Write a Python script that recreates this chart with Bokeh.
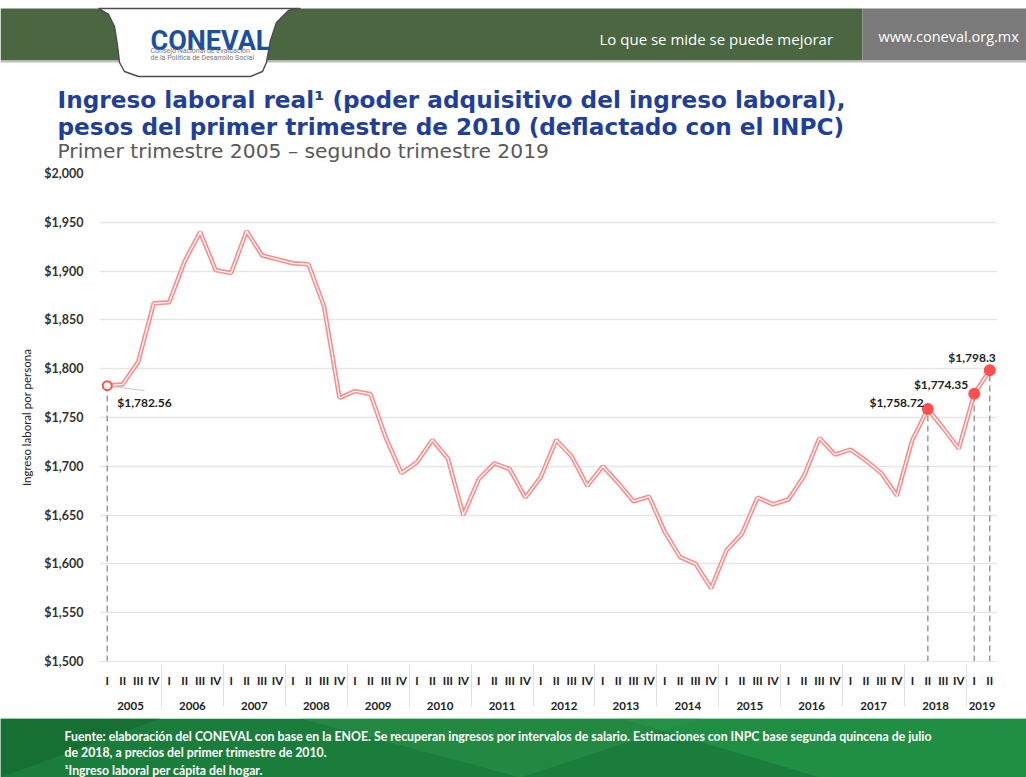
from bokeh.plotting import figure
from bokeh.models import FactorRange, Range1d, ColumnDataSource, Label, FixedTicker, NumeralTickFormatter
from bokeh.layouts import column
from bokeh.embed import file_html
from bokeh.resources import INLINE
from bokeh.core.properties import value

# ---------------- data ----------------
years = [str(y) for y in range(2005, 2020)]
quarters = ["I", "II", "III", "IV"]
income = [1782.56, 1784, 1807, 1867,
          1868, 1910, 1940, 1901,
          1898, 1941, 1916, 1912,
          1908, 1907, 1864, 1770,
          1777, 1774, 1729, 1693,
          1704, 1727, 1708, 1650,
          1687, 1703, 1697, 1668,
          1689, 1727, 1710, 1680,
          1700, 1683, 1664, 1669,
          1633, 1607, 1600, 1575,
          1614, 1631, 1668, 1661,
          1666, 1690, 1729, 1712,
          1717, 1706, 1693, 1670,
          1727, 1758.72, 1739, 1718,
          1774.35, 1798.3]
highlight_idx = [0, 53, 56, 57]
y_ticks = [1500, 1550, 1600, 1650, 1700, 1750, 1800, 1850, 1900, 1950, 2000]
y_min, y_max = 1500, 2000

title1 = "Ingreso laboral real¹ (poder adquisitivo del ingreso laboral),"
title2 = "pesos del primer trimestre de 2010 (deflactado con el INPC)"
subtitle = "Primer trimestre 2005 – segundo trimestre 2019"
y_label = "Ingreso laboral por persona"
foot1 = ("Fuente: elaboración del CONEVAL con base en la ENOE. Se recuperan ingresos por intervalos de salario. "
         "Estimaciones con INPC base segunda quincena de julio")
foot2 = "de 2018, a precios del primer trimestre de 2010."
foot3 = "¹Ingreso laboral per cápita del hogar."

periods = [(y, q) for y in years for q in quarters][:len(income)]

W = 1026
CHART_FONT = "Lato"

# ---------------- header ----------------
HH = 165
ph = figure(width=W, height=HH, x_range=Range1d(0, W), y_range=Range1d(HH, 0),
            toolbar_location=None, output_backend="svg", min_border=0,
            x_axis_location=None, y_axis_location=None)
ph.frame_align = False
ph.grid.visible = False
ph.outline_line_color = None
ph.quad(left=0, right=862, top=8, bottom=60, fill_color="#4a6741", line_color=None)
ph.quad(left=862, right=W, top=8, bottom=60, fill_color="#7a7a7a", line_color=None)
ph.quad(left=0, right=W, top=60, bottom=62, fill_color="#b9c2b6", line_color=None)
logo_x = [98, 108, 114, 117, 119, 124, 138, 250, 262, 266, 270, 276, 288, 300]
logo_y = [8, 14, 26, 45, 62, 71, 76, 76, 71, 62, 40, 22, 10, 8]
ph.patch(logo_x, logo_y, fill_color="white", line_color="#4d4d4d", line_width=1.5)
ph.text(x=[150], y=[40], text=["CONEVAL"], text_font=value("Roboto"), text_font_style="bold",
        text_font_size="27px", text_color="#1d4f9c", text_baseline="alphabetic")
ph.text(x=[150, 150], y=[50, 57], text=["Consejo Nacional de Evaluación", "de la Política de Desarrollo Social"],
        text_font=value("Roboto"), text_font_size="7px", text_color="#777777", text_baseline="alphabetic")
ph.text(x=[599], y=[38], text=["Lo que se mide se puede mejorar"], text_font=value("Open Sans"),
        text_font_size="15px", text_color="white", text_baseline="middle")
ph.text(x=[878], y=[36], text=["www.coneval.org.mx"], text_font=value("Open Sans"),
        text_font_size="14.5px", text_color="white", text_baseline="middle")
ph.text(x=[57, 57], y=[99, 126], text=[title1, title2], text_font=value("DejaVu Sans"),
        text_font_style="bold", text_font_size="23.2px", text_color="#1f3f99", text_baseline="alphabetic")
ph.text(x=[57], y=[150], text=[subtitle], text_font=value("DejaVu Sans"),
        text_font_size="20.3px", text_color="#595959", text_baseline="alphabetic")

# ---------------- main chart ----------------
src = ColumnDataSource(dict(period=periods, income=income))
hl = ColumnDataSource(dict(period=[periods[i] for i in highlight_idx],
                           income=[income[i] for i in highlight_idx],
                           base=[y_min] * len(highlight_idx)))

xr = FactorRange(factors=periods, range_padding=0, group_padding=0, subgroup_padding=0, factor_padding=0)
p = figure(width=W, height=553, x_range=xr, y_range=Range1d(y_min, y_max),
           toolbar_location=None, output_backend="svg",
           min_border_left=99, min_border_right=29, min_border_top=8, min_border_bottom=57)
p.frame_align = False
p.outline_line_color = None
p.xgrid.grid_line_color = None
p.ygrid.grid_line_color = "#e6e6e6"
p.ygrid.grid_line_width = 1.5

p.yaxis.ticker = FixedTicker(ticks=y_ticks)
p.yaxis.formatter = NumeralTickFormatter(format="$0,0")
p.yaxis.axis_line_color = None
p.yaxis.major_tick_line_color = None
p.yaxis.major_tick_out = 0
p.yaxis.major_tick_in = 0
p.yaxis.minor_tick_line_color = None
p.yaxis.major_label_standoff = 16
p.yaxis.major_label_text_font = CHART_FONT
p.yaxis.major_label_text_font_style = "bold"
p.yaxis.major_label_text_font_size = "12.5px"
p.yaxis.major_label_text_color = "#333333"
p.yaxis.axis_label = y_label
p.yaxis.axis_label_text_font = CHART_FONT
p.yaxis.axis_label_text_font_style = "normal"
p.yaxis.axis_label_text_font_size = "11.5px"
p.yaxis.axis_label_text_color = "#222222"
p.yaxis.axis_label_standoff = 8

xa = p.xaxis[0]
xa.axis_line_color = "#e6e6e6"
xa.major_tick_line_color = None
xa.major_tick_out = 0
xa.major_tick_in = 0
xa.major_label_text_font = CHART_FONT
xa.major_label_text_font_style = "bold"
xa.major_label_text_font_size = "11.5px"
xa.major_label_text_color = "#222222"
xa.major_label_standoff = 12
xa.group_text_font = CHART_FONT
xa.group_text_font_style = "bold"
xa.group_text_font_size = "11.5px"
xa.group_text_color = "#222222"
xa.separator_line_color = "#e0e0e0"
xa.separator_line_width = 1

p.segment(x0="period", y0="base", x1="period", y1="income", source=hl,
          line_color="#9a9a9a", line_width=1.5, line_dash="6 4")
p.line("period", "income", source=src, line_color="#ff8c8c", line_width=4.5)
p.line("period", "income", source=src, line_color="white", line_width=1.3)

first = highlight_idx[0]
# synthetic categorical coordinate of point i is i + 0.5
p.segment(x0=[first + 0.5], y0=[income[first]], x1=[first + 2.9], y1=[income[first] - 5],
          line_color="#c8c8c8", line_width=1)
p.scatter(x=[periods[first]], y=[income[first]], size=9, fill_color="white",
          line_color="#ff4f4f", line_width=2)
p.scatter(x=[periods[i] for i in highlight_idx[1:]], y=[income[i] for i in highlight_idx[1:]],
          size=12, fill_color="#ff4f4f", line_color=None)

offsets = {0: (10, -17, "left"), 53: (-4, 6, "right"), 56: (-6, 9, "right"), 57: (6, 13, "right")}
for i in highlight_idx:
    dx, dy, al = offsets[i]
    t = "${:,.2f}".format(income[i])
    if i == 57:
        t = t.rstrip("0")
    p.add_layout(Label(x=i + 0.5, y=income[i], text=t, x_offset=dx, y_offset=dy,
                       text_align=al, text_baseline="middle", text_font=CHART_FONT,
                       text_font_style="bold", text_font_size="12px", text_color="#222222"))

# ---------------- footer ----------------
FH = 59
pf = figure(width=W, height=FH, x_range=Range1d(0, W), y_range=Range1d(FH, 0),
            toolbar_location=None, output_backend="svg", min_border=0,
            x_axis_location=None, y_axis_location=None)
pf.frame_align = False
pf.grid.visible = False
pf.outline_line_color = None
pf.quad(left=0, right=W, top=0, bottom=FH, fill_color="#1b7d3b", line_color=None)
pf.patch([300, 700, 520], [0, 0, FH], fill_color="#2a9048", fill_alpha=0.6, line_color=None)
pf.patch([620, W, W, 820], [0, 0, FH, FH], fill_color="#259a4a", fill_alpha=0.6, line_color=None)
pf.patch([0, 160, 0], [0, 0, FH], fill_color="#146b31", fill_alpha=0.7, line_color=None)
pf.text(x=[64, 64, 64], y=[18, 34, 52], text=[foot1, foot2, foot3], text_font=value(CHART_FONT),
        text_font_style="bold", text_font_size="12.3px", text_color="white", text_baseline="alphabetic")

layout = column(ph, p, pf, spacing=0)
open("out.html", "w").write(file_html(layout, INLINE))
